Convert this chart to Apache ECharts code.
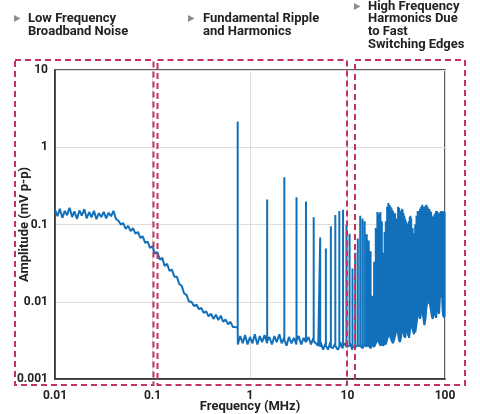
<!DOCTYPE html>
<html><head><meta charset="utf-8">
<script src="https://cdn.jsdelivr.net/npm/echarts@6/dist/echarts.min.js"></script>
<style>html,body{margin:0;padding:0;background:#fff}#c{width:480px;height:414px}</style>
</head><body><div id="c"></div>
<script>
const xTicks = [0.01, 0.1, 1, 10, 100];
const yTicks = [0.001, 0.01, 0.1, 1, 10];

// broadband noise floor (MHz, mV p-p)
const noiseFreq = [
 0.0100,0.0106,0.0112,0.0119,0.0126,0.0133,0.0141,0.0150,0.0158,0.0168,0.0178,0.0188,0.0200,0.0211,0.0224,0.0237,0.0251,0.0266,0.0282,0.0299,
 0.0316,0.0335,0.0355,0.0376,0.0398,0.0422,0.0447,0.0473,0.0501,0.0531,0.0562,0.0596,0.0631,0.0668,0.0708,0.0750,0.0794,0.0841,0.0891,0.0944,
 0.100,0.106,0.112,0.119,0.126,0.133,0.141,0.150,0.158,0.168,0.178,0.188,0.200,0.211,0.224,0.237,0.251,0.266,0.282,0.299,
 0.316,0.335,0.355,0.376,0.398,0.422,0.447,0.473,0.501,0.531,0.562,0.596,0.631,0.668,0.708,0.750,0.794,0.841,0.891,0.944,
 1.00,1.06,1.12,1.19,1.26,1.33,1.41,1.50,1.58,1.68,1.78,1.88,2.00,2.11,2.24,2.37,2.51,2.66,2.82,2.99,
 3.16,3.35,3.55,3.76,3.98,4.22,4.47,4.73,5.01,5.31,5.62,5.96,6.31,6.68,7.08,7.50,7.94,8.41,8.91,9.44,
 10.0,10.6,11.2
];
const noiseAmp = [
 0.155,0.128,0.160,0.122,0.150,0.132,0.165,0.125,0.148,0.118,0.152,0.130,0.158,0.120,0.145,0.124,0.150,0.117,0.140,0.125,
 0.146,0.120,0.142,0.128,0.150,0.118,0.112,0.100,0.104,0.088,0.096,0.082,0.090,0.076,0.080,0.067,0.070,0.058,0.060,0.050,
 0.052,0.042,0.044,0.035,0.037,0.029,0.031,0.025,0.026,0.021,0.021,0.017,0.0160,0.0128,0.0122,0.0100,0.0100,0.0088,0.0092,0.0080,
 0.0083,0.0072,0.0075,0.0065,0.0070,0.0060,0.0068,0.0058,0.0066,0.0055,0.0059,0.0051,0.0055,0.0047,0.0047,0.0028,0.0036,0.0029,0.0037,0.0028,
 0.0035,0.0029,0.0038,0.0028,0.0036,0.0030,0.0037,0.0029,0.0035,0.0028,0.0036,0.0030,0.0038,0.0029,0.0034,0.0027,0.0035,0.0029,0.0034,0.0028,
 0.0036,0.0028,0.0034,0.0029,0.0035,0.0028,0.0034,0.0029,0.0027,0.0030,0.0024,0.0029,0.0024,0.0030,0.0025,0.0029,0.0024,0.0030,0.0025,0.0029,
 0.0025,0.0029,0.0024
];

// fundamental ripple and its low harmonics
const spikeFreq = [0.748,1.5,2.25,3.0,3.75,4.5,5.25,6.0,6.75,7.5,8.25,9.0,9.75,10.5,11.25,12.0,12.75];
const spikePeak = [2.15,0.21,0.41,0.225,0.198,0.124,0.068,0.049,0.095,0.133,0.149,0.155,0.10,0.076,0.027,0.043,0.066];
const spikeBase = [0.0046,0.0031,0.0032,0.0031,0.0030,0.0031,0.0026,0.0027,0.0026,0.0027,0.0026,0.0027,0.0026,0.0027,0.0026,0.0026,0.0027];

// high-frequency harmonics due to fast switching edges
const hfFreq = [
 13.5,14.25,15.0,15.75,16.5,17.25,18.0,18.75,19.5,20.25,21.0,21.75,22.5,23.25,24.0,24.75,25.5,26.25,27.0,27.75,28.5,29.25,30.0,
 30.75,31.5,32.25,33.0,33.75,34.5,35.25,36.0,36.75,37.5,38.25,39.0,39.75,40.5,41.25,42.0,42.75,43.5,44.25,45.0,
 46.5,48.0,49.5,51.0,52.5,54.0,55.5,57.0,58.5,60.0,61.5,63.0,64.5,66.0,67.5,69.0,70.5,72.0,73.5,75.0,
 76.5,78.0,79.5,81.0,82.5,84.0,85.5,87.0,88.5,90.0,91.5,93.0,94.5,96.0,97.5,99.0
];
const hfPeak = [
 0.13,0.12,0.11,0.075,0.062,0.045,0.012,0.033,0.09,0.145,0.14,0.145,0.11,0.043,0.08,0.11,0.17,0.19,0.18,0.17,0.16,0.15,0.14,
 0.14,0.12,0.10,0.17,0.165,0.15,0.15,0.16,0.155,0.14,0.13,0.12,0.11,0.105,0.10,0.098,0.11,0.125,0.13,0.12,
 0.09,0.077,0.10,0.13,0.15,0.15,0.16,0.17,0.18,0.17,0.16,0.175,0.18,0.17,0.155,0.16,0.15,0.145,0.13,0.12,
 0.125,0.135,0.14,0.15,0.15,0.145,0.135,0.14,0.14,0.145,0.15,0.15,0.15,0.145,0.14,0.145
];
const hfTrough = [
 0.0027,0.0025,0.0028,0.0026,0.0027,0.0025,0.0028,0.0026,0.0029,0.0032,0.0030,0.0027,0.0029,0.0027,0.0029,0.0028,0.0033,0.0036,0.0040,0.0034,0.0031,0.0029,0.0032,
 0.0036,0.0042,0.0046,0.0038,0.0032,0.0030,0.0034,0.0040,0.0047,0.0042,0.0035,0.0034,0.0041,0.0048,0.0044,0.0036,0.0034,0.0040,0.0049,0.0053,
 0.0044,0.0038,0.0040,0.0052,0.0068,0.0072,0.0060,0.0075,0.0078,0.0062,0.0050,0.0060,0.0085,0.0100,0.0095,0.0105,0.0090,0.0075,0.0064,0.0060,
 0.0070,0.0085,0.0070,0.0062,0.0075,0.0090,0.0080,0.0070,0.0110,0.0130,0.0120,0.0140,0.0080,0.0064,0.0062,0.0064
];

const pts = [];
noiseFreq.forEach((f, i) => pts.push([f, noiseAmp[i]]));
spikeFreq.forEach((f, i) => { pts.push([f, spikeBase[i]]); pts.push([f, spikePeak[i]]); pts.push([f, spikeBase[i]]); });
hfFreq.forEach((f, i) => { pts.push([f, hfTrough[i]]); pts.push([f, hfPeak[i]]); pts.push([f, hfTrough[i]]); });
const seq = pts.map((p, i) => ({p, i})).sort((a, b) => (a.p[0] - b.p[0]) || (a.i - b.i)).map(o => o.p);

const fmt = ticks => v => { const t = ticks.find(t => Math.abs(Math.log10(t) - Math.log10(v)) < 1e-6); return t === undefined ? '' : String(t); };
const txt = '#222';
const FONT = 'Roboto, "DejaVu Sans", sans-serif';
const boxStyle = {fill: 'none', stroke: '#c2335f', lineWidth: 2, lineDash: [6, 4]};

const chart = echarts.init(document.getElementById('c'), null, {renderer: 'canvas'});
chart.setOption({
  animation: false,
  backgroundColor: '#fff',
  textStyle: {fontFamily: FONT},
  grid: {left: 55, right: 35, top: 70, bottom: 35, containLabel: false, outerBoundsMode: 'none',
         show: true, borderColor: '#2a2a2a', borderWidth: 1.5, backgroundColor: 'transparent'},
  xAxis: {
    type: 'log', logBase: 10, min: 0.01, max: 100,
    name: 'Frequency (MHz)', nameLocation: 'middle', nameGap: 21, nameMoveOverlap: false,
    nameTextStyle: {color: txt, fontWeight: 'bold', fontSize: 13, fontFamily: FONT},
    axisLine: {show: true, lineStyle: {color: '#2a2a2a', width: 1.5}},
    axisTick: {show: false},
    axisLabel: {color: txt, fontWeight: 'bold', fontSize: 12, margin: 11, formatter: fmt(xTicks), fontFamily: FONT},
    splitLine: {show: true, lineStyle: {color: '#dddddd', width: 1}},
    minorTick: {show: false}
  },
  yAxis: {
    type: 'log', logBase: 10, min: 0.001, max: 10,
    name: 'Amplitude (mV p-p)', nameLocation: 'middle', nameGap: 24, nameMoveOverlap: false,
    nameTextStyle: {color: txt, fontWeight: 'bold', fontSize: 13, fontFamily: FONT},
    axisLine: {show: true, lineStyle: {color: '#2a2a2a', width: 1.5}},
    axisTick: {show: false},
    axisLabel: {color: txt, fontWeight: 'bold', fontSize: 12, margin: 7, formatter: fmt(yTicks), fontFamily: FONT},
    splitLine: {show: true, lineStyle: {color: '#dddddd', width: 1}}
  },
  series: [{
    type: 'line', data: seq, showSymbol: false, symbol: 'none',
    lineStyle: {color: '#1170b9', width: 2, join: 'bevel'},
    z: 3
  }],
  graphic: [
    {type: 'rect', shape: {x: 15, y: 60, width: 138.5, height: 325}, style: boxStyle, z: 100},
    {type: 'rect', shape: {x: 157.5, y: 60, width: 189.5, height: 325}, style: boxStyle, z: 100},
    {type: 'rect', shape: {x: 355, y: 60, width: 110, height: 325}, style: boxStyle, z: 100},
    {type: 'polygon', shape: {points: [[14, 15], [14, 22], [20.5, 18.5]]}, style: {fill: '#8c8c8c'}, z: 100},
    {type: 'polygon', shape: {points: [[188, 15], [188, 22], [194.5, 18.5]]}, style: {fill: '#8c8c8c'}, z: 100},
    {type: 'polygon', shape: {points: [[354, 3], [354, 10], [360.5, 6.5]]}, style: {fill: '#8c8c8c'}, z: 100},
    {type: 'text', x: 28, y: 12, z: 100, style: {text: 'Low Frequency\nBroadband Noise', font: 'bold 13px ' + FONT, fill: txt, lineHeight: 13, verticalAlign: 'top'}},
    {type: 'text', x: 203, y: 12, z: 100, style: {text: 'Fundamental Ripple\nand Harmonics', font: 'bold 13px ' + FONT, fill: txt, lineHeight: 13, verticalAlign: 'top'}},
    {type: 'text', x: 368, y: 0, z: 100, style: {text: 'High Frequency\nHarmonics Due\nto Fast\nSwitching Edges', font: 'bold 13px ' + FONT, fill: txt, lineHeight: 12.8, verticalAlign: 'top'}}
  ]
});
</script>
</body></html>
